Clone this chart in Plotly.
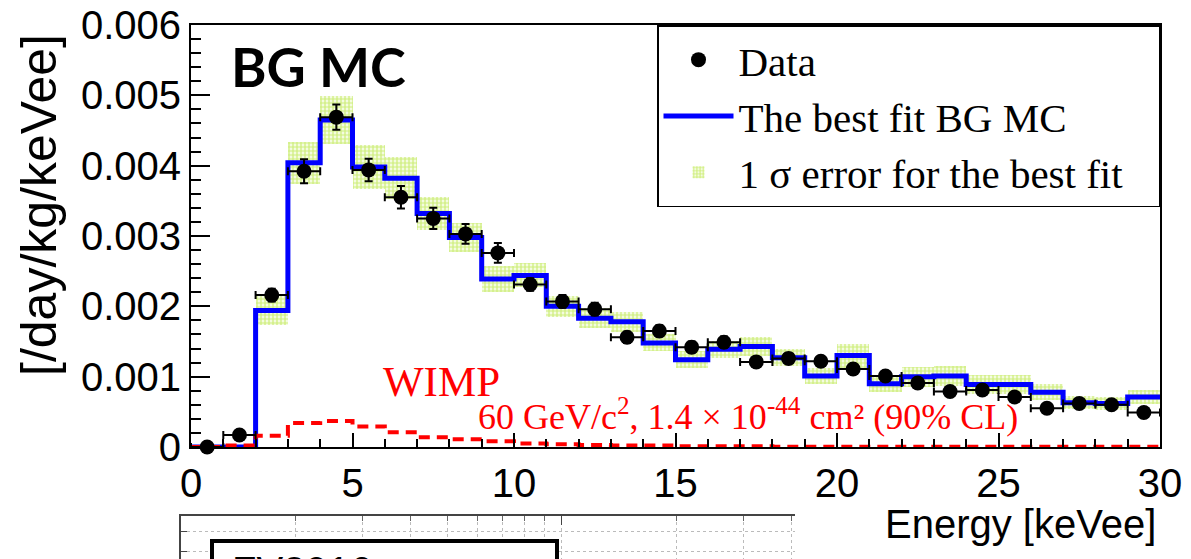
import plotly.graph_objects as go

# ---------------- data ----------------
energy_edges = list(range(0, 31))                 # keVee bin edges
energy_centers = [e + 0.5 for e in range(30)]     # keVee bin centres
energy_halfwidth = [0.5] * 30

data_rate = [0.0, 0.00017, 0.00216, 0.00392, 0.00469, 0.00394, 0.00355, 0.00325,
             0.00303, 0.00276, 0.00231, 0.00207, 0.00196, 0.00156, 0.00165, 0.00142,
             0.00149, 0.00121, 0.00126, 0.00122, 0.00111, 0.00101, 0.00091, 0.00079,
             0.00081, 0.00071, 0.00055, 0.00062, 0.00060, 0.00049]
data_err = [0.00003, 0.00005, 0.00009, 0.00017, 0.00018, 0.00016, 0.00016, 0.00015,
            0.00014, 0.00014, 0.00009, 0.00009, 0.00009, 0.00008, 0.00008, 0.00008,
            0.00008, 0.00007, 0.00007, 0.00007, 0.00007, 0.00006, 0.00006, 0.00006,
            0.00006, 0.00006, 0.00005, 0.00005, 0.00005, 0.00005]

bg_mc = [0.0, 0.0, 0.00194, 0.00404, 0.00465, 0.00398, 0.00382, 0.00332,
         0.00298, 0.00239, 0.00244, 0.00200, 0.00183, 0.00178, 0.00148, 0.00124,
         0.00139, 0.00143, 0.00127, 0.00101, 0.00130, 0.00090, 0.00100, 0.00101,
         0.00089, 0.00089, 0.00078, 0.00063, 0.00062, 0.00071]
bg_err = [0.0, 0.0, 0.00021, 0.00030, 0.00034, 0.00031, 0.00030, 0.00023,
          0.00021, 0.00018, 0.00017, 0.00015, 0.00014, 0.00014, 0.00012, 0.00012,
          0.00012, 0.00013, 0.00012, 0.00012, 0.00017, 0.00012, 0.00014, 0.00014,
          0.00013, 0.00013, 0.00011, 0.00009, 0.00009, 0.00010]

wimp = [0.0, 0.00002, 0.00016, 0.00034, 0.00037, 0.00029, 0.00021, 0.00014,
        0.00011, 0.00008, 0.00005, 0.00004, 0.00003, 0.00002, 0.00002, 0.00001,
        0.00001, 0.00001, 0.000005, 0.000005, 0.000005, 0.000005, 0.000005, 0.000005,
        0.000005, 0.000005, 0.000005, 0.000005, 0.000005, 0.000005]

y_tickvals = [0, 0.001, 0.002, 0.003, 0.004, 0.005, 0.006]
y_ticktext = ["0", "0.001", "0.002", "0.003", "0.004", "0.005", "0.006"]
x_tickvals = [0, 5, 10, 15, 20, 25, 30]

SANS = "Liberation Sans, Arial, Helvetica, sans-serif"
SERIF = "Liberation Serif, Times New Roman, serif"
NB = "\u00a0"

W, H = 1191, 559
ML, MR, MT, MB = 181, 31, 25, 0
PW, PH = W - ML - MR, H - MT - MB


def px_x(p):
    return (p - ML) / PW


def px_y(p):
    return (H - MB - p) / PH


fig = go.Figure()

# 1 sigma band
fig.add_trace(go.Bar(
    x=energy_centers,
    y=[2 * e for e in bg_err],
    base=[v - e for v, e in zip(bg_mc, bg_err)],
    width=1,
    marker=dict(color="white", line=dict(width=0),
                pattern=dict(shape=".", fgcolor="#ace21e", bgcolor="white",
                             size=4, solidity=0.7)),
    name="1 σ error for the best fit" + NB * 3, legendrank=3,
))

# best fit BG MC
fig.add_trace(go.Scatter(
    x=energy_edges, y=bg_mc + [bg_mc[-1]], mode="lines",
    line=dict(shape="hv", color="#0000ff", width=5),
    name="The best fit BG MC", legendrank=2, cliponaxis=False,
))

# WIMP
fig.add_trace(go.Scatter(
    x=energy_edges, y=wimp + [wimp[-1]], mode="lines",
    line=dict(shape="hv", color="#ff0000", width=4, dash="11px,7px"),
    showlegend=False, cliponaxis=False,
))

# data
fig.add_trace(go.Scatter(
    x=energy_centers, y=data_rate, mode="markers",
    marker=dict(color="black", size=15),
    error_x=dict(type="data", array=energy_halfwidth, color="black", thickness=2, width=4),
    error_y=dict(type="data", array=data_err, color="black", thickness=2, width=4),
    name="Data", legendrank=1, cliponaxis=False,
))

# inset (partially visible lower figure)
inset_x = [10, 400]
inset_y = [0, 2.15]
fig.add_trace(go.Scatter(x=inset_x, y=inset_y, mode="markers", marker=dict(opacity=0),
                         xaxis="x2", yaxis="y2", showlegend=False, hoverinfo="skip"))

axis_common = dict(showline=True, linecolor="black", linewidth=2, mirror=True,
                   showgrid=False, zeroline=False, ticks="inside", tickwidth=2,
                   tickcolor="black", automargin=False,
                   tickfont=dict(family=SANS, size=40, color="black"))

fig.update_layout(
    width=W, height=H,
    margin=dict(l=ML, r=MR, t=MT, b=MB, autoexpand=False),
    paper_bgcolor="white", plot_bgcolor="white",
    xaxis=dict(domain=[px_x(191), 1], range=[0, 30], anchor="y",
               tickvals=x_tickvals, ticklen=14,
               minor=dict(dtick=1, ticklen=8, ticks="inside", tickwidth=2, tickcolor="black"),
               **axis_common),
    yaxis=dict(domain=[px_y(447), 1], range=[0, 0.006], anchor="x",
               tickvals=y_tickvals, ticktext=y_ticktext, ticklen=19,
               minor=dict(dtick=0.0002, ticklen=10, ticks="inside", tickwidth=2, tickcolor="black"),
               **axis_common),
    xaxis2=dict(domain=[0, px_x(795)], type="log", range=[1, 2.612], anchor="y2",
                side="top", showline=True, linecolor="#444", linewidth=1.5,
                showticklabels=False, ticks="inside", ticklen=9, tickcolor="#444", dtick=1,
                showgrid=True, gridcolor="#bbbbbb", griddash="dot", gridwidth=1,
                minor=dict(dtick="D1", ticks="inside", ticklen=5, tickcolor="#666",
                           showgrid=True, gridcolor="#bbbbbb", griddash="dot"),
                zeroline=False, automargin=False),
    yaxis2=dict(domain=[0, px_y(516)], range=inset_y, anchor="x2",
                showline=True, linecolor="#444", linewidth=1.5,
                showticklabels=False, ticks="inside", ticklen=6, tickcolor="#444",
                tick0=0.4, dtick=1, showgrid=True, gridcolor="#bbbbbb", griddash="dot",
                zeroline=False, automargin=False),
    legend=dict(x=1, xanchor="right", y=1, yanchor="top",
                bgcolor="white", bordercolor="black", borderwidth=1.5,
                font=dict(family=SERIF, size=41, color="black"),
                itemwidth=70, traceorder="normal"),
    showlegend=True,
    bargap=0,
)

fig.add_shape(type="rect", xref="paper", yref="paper",
              x0=px_x(212), x1=px_x(557), y0=px_y(600), y1=px_y(541),
              line=dict(color="black", width=4), fillcolor="white", layer="above")

fig.add_annotation(text="FV2016", xref="paper", yref="paper",
                   x=px_x(230), y=px_y(547), xanchor="left", yanchor="top",
                   showarrow=False, font=dict(family=SANS, size=40, color="black"))

# titles / labels
fig.add_annotation(text="[/day/kg/keVee]", xref="paper", yref="paper",
                   x=px_x(39), y=px_y(205), xanchor="center", yanchor="middle",
                   textangle=-90, showarrow=False,
                   font=dict(family=SANS, size=50, color="black"))
fig.add_annotation(text="Energy [keVee]", xref="paper", yref="paper",
                   x=px_x(1158), y=px_y(524), xanchor="right", yanchor="middle",
                   showarrow=False, font=dict(family=SANS, size=40, color="black"))
fig.add_annotation(text="<b>BG MC</b>", xref="paper", yref="paper",
                   x=px_x(229), y=px_y(67), xanchor="left", yanchor="middle",
                   showarrow=False, font=dict(family="Lato, Open Sans, sans-serif", size=54, color="black"))
fig.add_annotation(text="WIMP", xref="paper", yref="paper",
                   x=px_x(441), y=px_y(381), xanchor="center", yanchor="middle",
                   showarrow=False, font=dict(family=SERIF, size=43, color="#ff0000"))
fig.add_annotation(text="60 GeV/c<sup>2</sup>, 1.4 × 10<sup>-44</sup> cm² (90% CL)",
                   xref="paper", yref="paper",
                   x=px_x(1020), y=px_y(414), xanchor="right", yanchor="middle",
                   showarrow=False, font=dict(family=SERIF, size=36, color="#ff0000"))

fig.write_html("out.html")
